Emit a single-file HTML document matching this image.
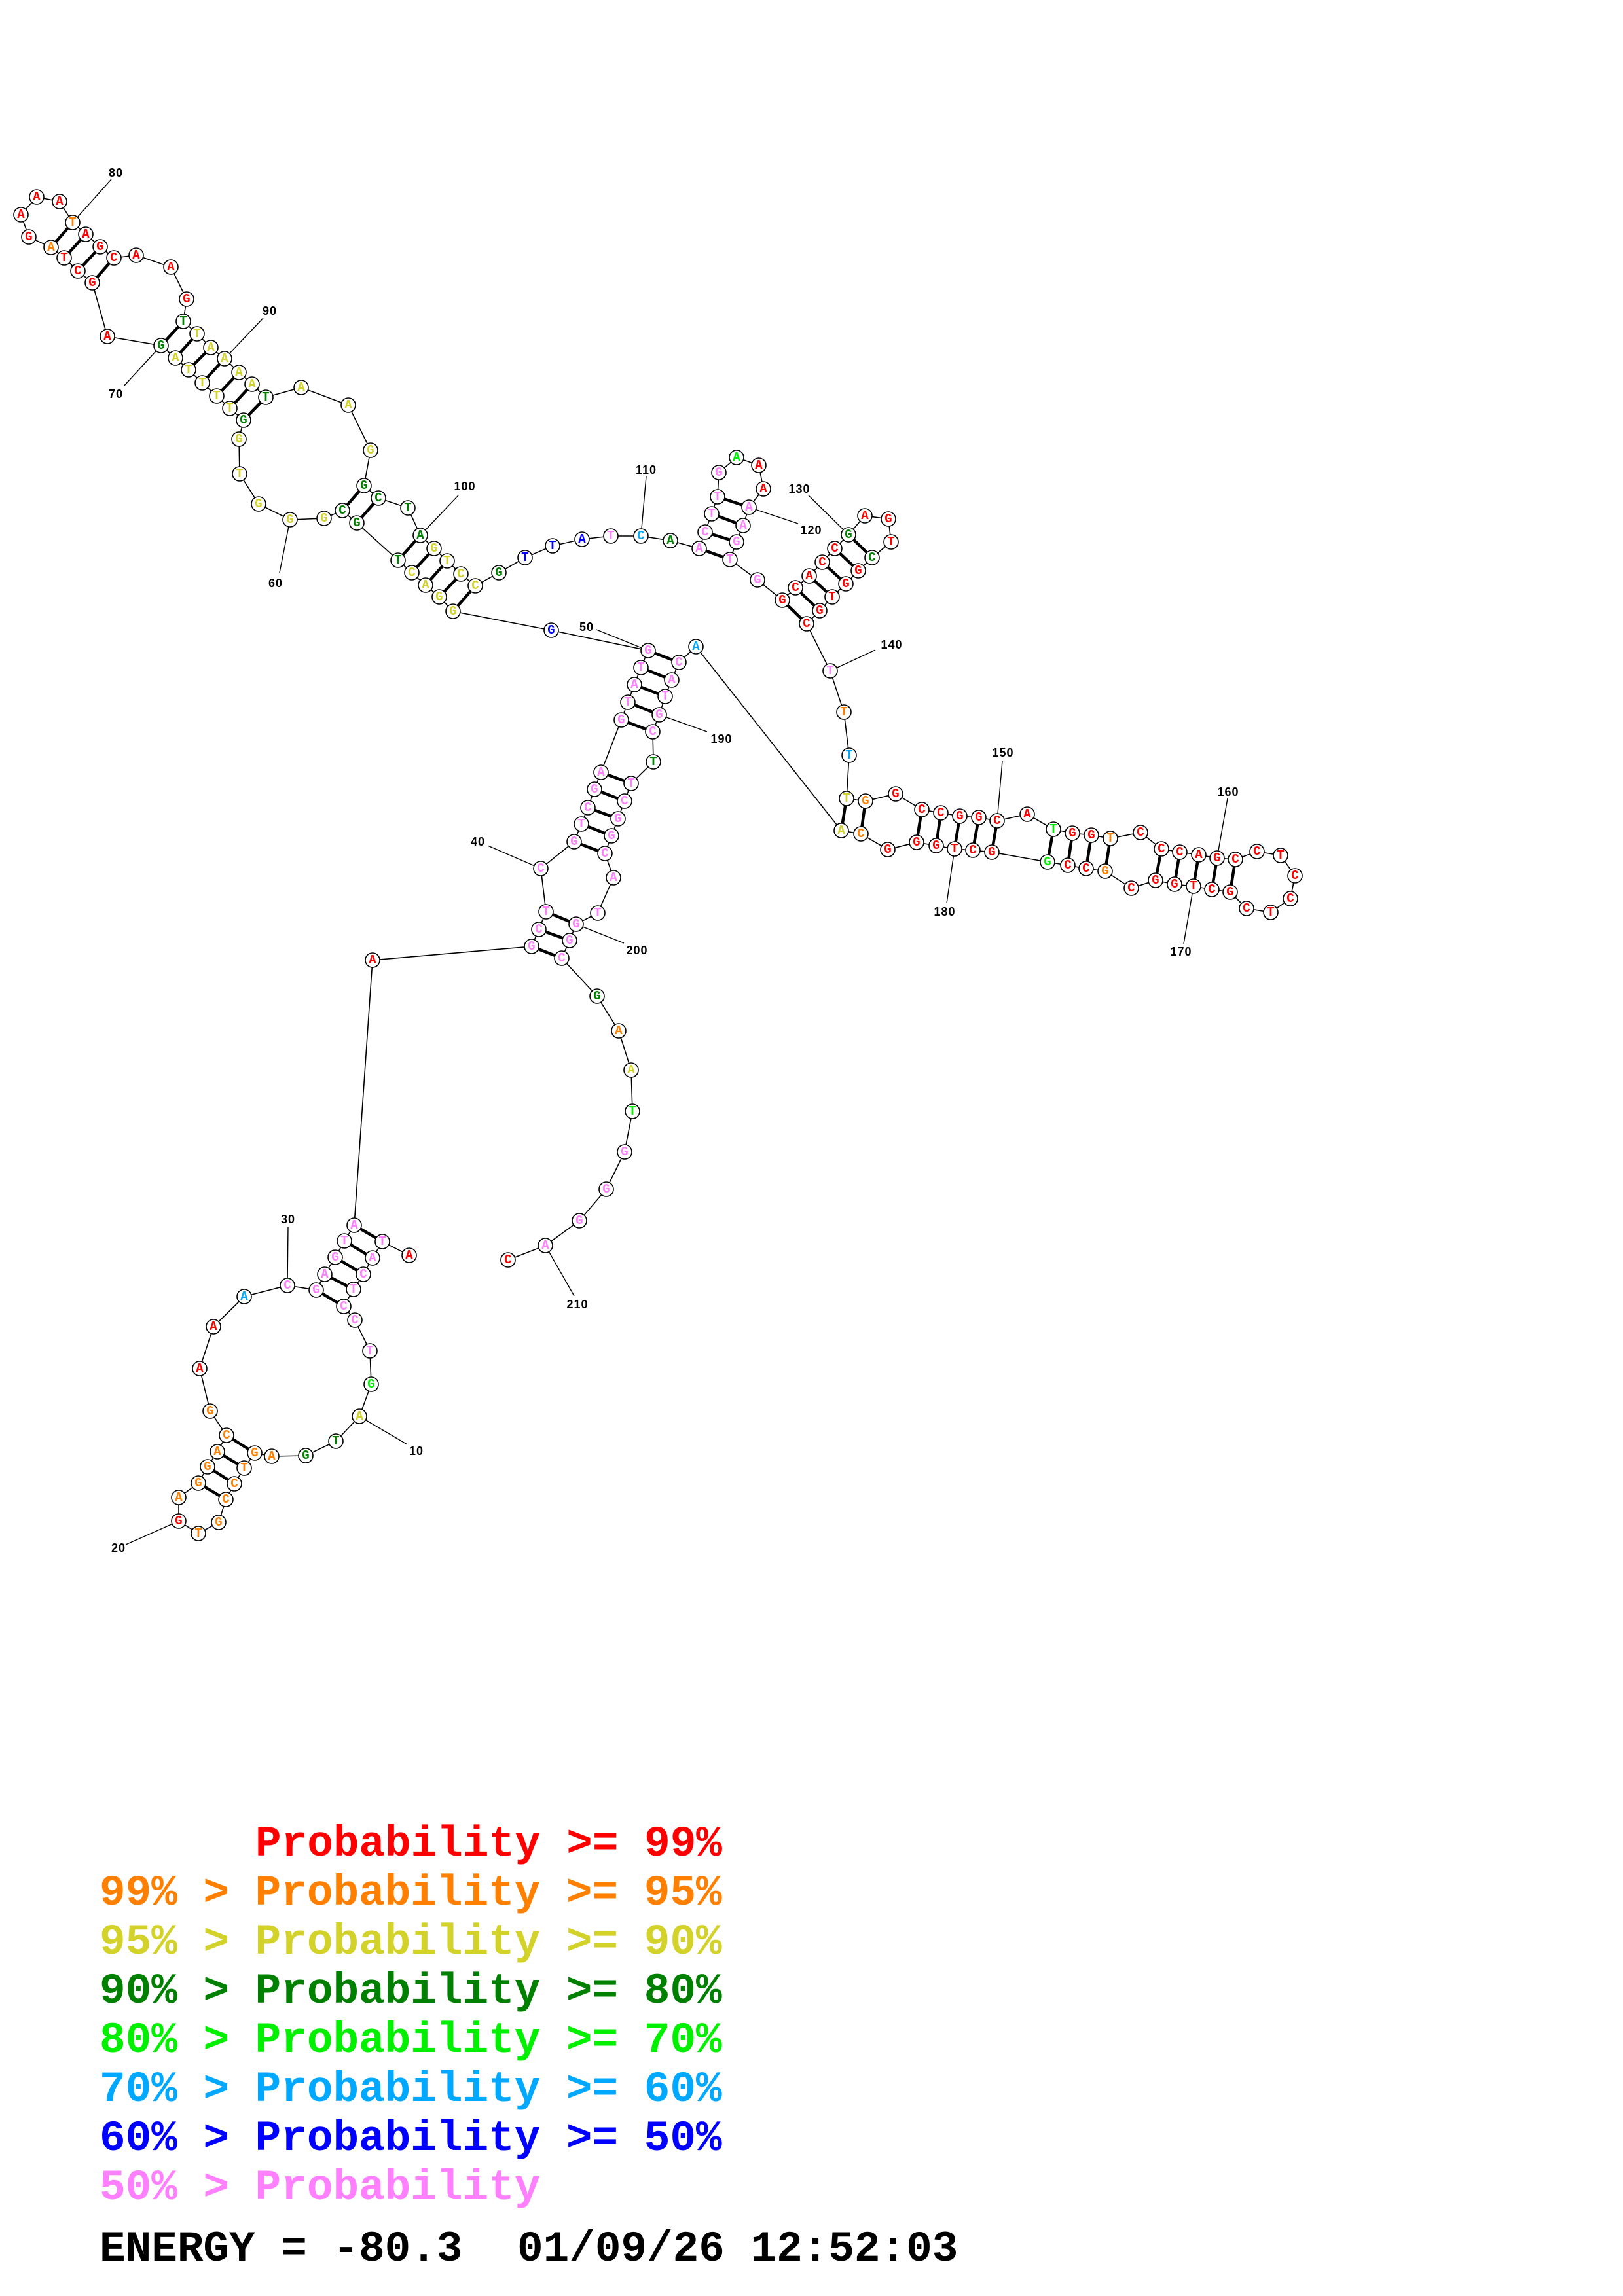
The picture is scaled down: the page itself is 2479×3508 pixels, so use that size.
<!DOCTYPE html>
<html><head><meta charset="utf-8"><style>
html,body{margin:0;padding:0;background:#fff}
svg{display:block}
circle{fill:#fff;stroke:#000;stroke-width:1.6}
.n text{font-family:"Liberation Mono",monospace;font-weight:bold;font-size:19px;text-anchor:middle;dominant-baseline:central}
.r{fill:#ff0000}.o{fill:#ff8000}.y{fill:#d2d22a}.dg{fill:#008000}.bg{fill:#00f000}.c{fill:#00a8ff}.b{fill:#0000ff}.p{fill:#ff80ff}
.lab{font-family:"Liberation Sans",sans-serif;font-weight:bold;font-size:18px;text-anchor:middle;dominant-baseline:central;fill:#000;letter-spacing:1px}
.leg{font-family:"Liberation Mono",monospace;font-weight:bold;font-size:66px;white-space:pre}
</style></head><body>
<svg width="2479" height="3508" viewBox="0 0 2479 3508" xmlns="http://www.w3.org/2000/svg">
<polyline fill="none" stroke="#000" stroke-width="1.6" points="625,1918 584,1897 569,1922 555,1947 540,1970 525,1996 542,2017 565,2064 567,2115 549,2164 513,2202 467,2224 415,2225 389,2220 373,2243 358,2267 345,2291 334,2326 303,2343 273,2324 273,2288 303,2266 317,2241 332,2218 346,2193 321,2156 305,2091 326,2027 373,1981 439,1964 483,1971 496,1947 512,1921 526,1896 541,1872 569,1467 812,1446 823,1420 834,1393 826,1327 877,1286 888,1259 898,1234 908,1206 918,1180 949,1100 959,1073 969,1046 979,1020 990,994 842,963 692,934 671,912 650,894 629,875 608,856 545,799 523,780 495,792 443,794 395,770 366,724 365,671 372,642 351,624 331,605 309,585 288,565 268,547 246,528 164,514 141,432 119,414 98,394 78,378 44,362 32,328 56,301 91,308 111,340 131,358 153,377 174,394 208,390 261,408 285,457 280,491 301,510 322,531 343,548 365,569 385,587 406,607 460,592 532,619 566,688 556,742 578,761 623,776 642,818 663,838 683,857 704,877 726,895 762,875 802,852 844,834 889,824 933,819 979,819 1024,826 1068,838 1077,813 1087,785 1096,759 1098,722 1125,699 1159,711 1166,747 1144,775 1135,803 1125,828 1115,855 1157,886 1195,917 1215,898 1236,880 1256,859 1275,838 1296,817 1321,788 1357,793 1361,828 1332,852 1311,872 1292,892 1271,912 1252,933 1232,953 1268,1025 1289,1088 1297,1154 1293,1220 1322,1224 1368,1213 1408,1237 1437,1242 1466,1247 1495,1249 1523,1254 1569,1244 1609,1267 1638,1273 1667,1276 1696,1281 1742,1272 1774,1297 1802,1302 1831,1306 1859,1311 1887,1313 1920,1301 1956,1307 1978,1338 1971,1373 1941,1394 1904,1388 1879,1363 1851,1359 1823,1354 1794,1351 1765,1345 1728,1357 1688,1331 1659,1327 1631,1322 1600,1317 1515,1302 1486,1299 1458,1297 1430,1292 1400,1287 1356,1298 1315,1274 1285,1269 1063,988 1037,1012 1026,1039 1016,1064 1007,1092 997,1118 998,1164 964,1197 954,1224 944,1251 934,1277 924,1304 937,1341 913,1395 880,1412 870,1437 858,1464 912,1522 945,1575 964,1635 966,1698 954,1760 926,1817 885,1865 833,1903 776,1925"/>
<g stroke="#000" stroke-width="4.5">
<line x1="541" y1="1872" x2="584" y2="1897"/><line x1="526" y1="1896" x2="569" y2="1922"/><line x1="512" y1="1921" x2="555" y2="1947"/><line x1="496" y1="1947" x2="540" y2="1970"/><line x1="483" y1="1971" x2="525" y2="1996"/>
<line x1="346" y1="2193" x2="389" y2="2220"/><line x1="332" y1="2218" x2="373" y2="2243"/><line x1="317" y1="2241" x2="358" y2="2267"/><line x1="303" y1="2266" x2="345" y2="2291"/>
<line x1="812" y1="1446" x2="858" y2="1464"/><line x1="823" y1="1420" x2="870" y2="1437"/><line x1="834" y1="1393" x2="880" y2="1412"/>
<line x1="877" y1="1286" x2="924" y2="1304"/><line x1="888" y1="1259" x2="934" y2="1277"/><line x1="898" y1="1234" x2="944" y2="1251"/><line x1="908" y1="1206" x2="954" y2="1224"/><line x1="918" y1="1180" x2="964" y2="1197"/>
<line x1="949" y1="1100" x2="997" y2="1118"/><line x1="959" y1="1073" x2="1007" y2="1092"/><line x1="969" y1="1046" x2="1016" y2="1064"/><line x1="979" y1="1020" x2="1026" y2="1039"/><line x1="990" y1="994" x2="1037" y2="1012"/>
<line x1="692" y1="934" x2="726" y2="895"/><line x1="671" y1="912" x2="704" y2="877"/><line x1="650" y1="894" x2="683" y2="857"/><line x1="629" y1="875" x2="663" y2="838"/><line x1="608" y1="856" x2="642" y2="818"/>
<line x1="545" y1="799" x2="578" y2="761"/><line x1="523" y1="780" x2="556" y2="742"/>
<line x1="372" y1="642" x2="406" y2="607"/><line x1="351" y1="624" x2="385" y2="587"/><line x1="331" y1="605" x2="365" y2="569"/><line x1="309" y1="585" x2="343" y2="548"/><line x1="288" y1="565" x2="322" y2="531"/><line x1="268" y1="547" x2="301" y2="510"/><line x1="246" y1="528" x2="280" y2="491"/>
<line x1="141" y1="432" x2="174" y2="394"/><line x1="119" y1="414" x2="153" y2="377"/><line x1="98" y1="394" x2="131" y2="358"/><line x1="78" y1="378" x2="111" y2="340"/>
<line x1="1068" y1="838" x2="1115" y2="855"/><line x1="1077" y1="813" x2="1125" y2="828"/><line x1="1087" y1="785" x2="1135" y2="803"/><line x1="1096" y1="759" x2="1144" y2="775"/>
<line x1="1195" y1="917" x2="1232" y2="953"/><line x1="1215" y1="898" x2="1252" y2="933"/><line x1="1236" y1="880" x2="1271" y2="912"/><line x1="1256" y1="859" x2="1292" y2="892"/><line x1="1275" y1="838" x2="1311" y2="872"/><line x1="1296" y1="817" x2="1332" y2="852"/>
<line x1="1293" y1="1220" x2="1285" y2="1269"/><line x1="1322" y1="1224" x2="1315" y2="1274"/>
<line x1="1408" y1="1237" x2="1400" y2="1287"/><line x1="1437" y1="1242" x2="1430" y2="1292"/><line x1="1466" y1="1247" x2="1458" y2="1297"/><line x1="1495" y1="1249" x2="1486" y2="1299"/><line x1="1523" y1="1254" x2="1515" y2="1302"/>
<line x1="1609" y1="1267" x2="1600" y2="1317"/><line x1="1638" y1="1273" x2="1631" y2="1322"/><line x1="1667" y1="1276" x2="1659" y2="1327"/><line x1="1696" y1="1281" x2="1688" y2="1331"/>
<line x1="1774" y1="1297" x2="1765" y2="1345"/><line x1="1802" y1="1302" x2="1794" y2="1351"/><line x1="1831" y1="1306" x2="1823" y2="1354"/><line x1="1859" y1="1311" x2="1851" y2="1359"/><line x1="1887" y1="1313" x2="1879" y2="1363"/>
</g>
<g stroke="#000" stroke-width="1.4">
<line x1="549" y1="2164" x2="622" y2="2207"/><line x1="273" y1="2324" x2="192" y2="2360"/><line x1="439" y1="1964" x2="440" y2="1875"/><line x1="826" y1="1327" x2="745" y2="1292"/><line x1="990" y1="994" x2="911" y2="962"/><line x1="443" y1="794" x2="427" y2="875"/><line x1="246" y1="528" x2="189" y2="590"/><line x1="111" y1="340" x2="170" y2="274"/><line x1="343" y1="548" x2="402" y2="486"/><line x1="642" y1="818" x2="700" y2="757"/><line x1="979" y1="819" x2="987" y2="728"/><line x1="1144" y1="775" x2="1219" y2="800"/><line x1="1296" y1="817" x2="1235" y2="757"/><line x1="1268" y1="1025" x2="1337" y2="993"/><line x1="1523" y1="1254" x2="1531" y2="1163"/><line x1="1859" y1="1311" x2="1875" y2="1220"/><line x1="1823" y1="1354" x2="1808" y2="1442"/><line x1="1458" y1="1297" x2="1446" y2="1380"/><line x1="1007" y1="1092" x2="1080" y2="1118"/><line x1="880" y1="1412" x2="953" y2="1441"/><line x1="833" y1="1903" x2="877" y2="1980"/>
</g>
<g class="lab">
<text x="636" y="2217">10</text><text x="181" y="2365">20</text><text x="440" y="1863">30</text><text x="730" y="1286">40</text><text x="896" y="958">50</text><text x="421" y="891">60</text><text x="177" y="602">70</text><text x="177" y="264">80</text><text x="412" y="475">90</text><text x="710" y="743">100</text><text x="987" y="718">110</text><text x="1239" y="810">120</text><text x="1221" y="747">130</text><text x="1362" y="985">140</text><text x="1532" y="1150">150</text><text x="1876" y="1210">160</text><text x="1804" y="1454">170</text><text x="1443" y="1393">180</text><text x="1102" y="1129">190</text><text x="973" y="1452">200</text><text x="882" y="1993">210</text>
</g>
<g class="n">
<circle cx="625" cy="1918" r="11"/><text x="625" y="1918" class="r">A</text>
<circle cx="584" cy="1897" r="11"/><text x="584" y="1897" class="p">T</text>
<circle cx="569" cy="1922" r="11"/><text x="569" y="1922" class="p">A</text>
<circle cx="555" cy="1947" r="11"/><text x="555" y="1947" class="p">C</text>
<circle cx="540" cy="1970" r="11"/><text x="540" y="1970" class="p">T</text>
<circle cx="525" cy="1996" r="11"/><text x="525" y="1996" class="p">C</text>
<circle cx="542" cy="2017" r="11"/><text x="542" y="2017" class="p">C</text>
<circle cx="565" cy="2064" r="11"/><text x="565" y="2064" class="p">T</text>
<circle cx="567" cy="2115" r="11"/><text x="567" y="2115" class="bg">G</text>
<circle cx="549" cy="2164" r="11"/><text x="549" y="2164" class="y">A</text>
<circle cx="513" cy="2202" r="11"/><text x="513" y="2202" class="dg">T</text>
<circle cx="467" cy="2224" r="11"/><text x="467" y="2224" class="dg">G</text>
<circle cx="415" cy="2225" r="11"/><text x="415" y="2225" class="o">A</text>
<circle cx="389" cy="2220" r="11"/><text x="389" y="2220" class="o">G</text>
<circle cx="373" cy="2243" r="11"/><text x="373" y="2243" class="o">T</text>
<circle cx="358" cy="2267" r="11"/><text x="358" y="2267" class="o">C</text>
<circle cx="345" cy="2291" r="11"/><text x="345" y="2291" class="o">C</text>
<circle cx="334" cy="2326" r="11"/><text x="334" y="2326" class="o">G</text>
<circle cx="303" cy="2343" r="11"/><text x="303" y="2343" class="o">T</text>
<circle cx="273" cy="2324" r="11"/><text x="273" y="2324" class="r">G</text>
<circle cx="273" cy="2288" r="11"/><text x="273" y="2288" class="o">A</text>
<circle cx="303" cy="2266" r="11"/><text x="303" y="2266" class="o">G</text>
<circle cx="317" cy="2241" r="11"/><text x="317" y="2241" class="o">G</text>
<circle cx="332" cy="2218" r="11"/><text x="332" y="2218" class="o">A</text>
<circle cx="346" cy="2193" r="11"/><text x="346" y="2193" class="o">C</text>
<circle cx="321" cy="2156" r="11"/><text x="321" y="2156" class="o">G</text>
<circle cx="305" cy="2091" r="11"/><text x="305" y="2091" class="r">A</text>
<circle cx="326" cy="2027" r="11"/><text x="326" y="2027" class="r">A</text>
<circle cx="373" cy="1981" r="11"/><text x="373" y="1981" class="c">A</text>
<circle cx="439" cy="1964" r="11"/><text x="439" y="1964" class="p">C</text>
<circle cx="483" cy="1971" r="11"/><text x="483" y="1971" class="p">G</text>
<circle cx="496" cy="1947" r="11"/><text x="496" y="1947" class="p">A</text>
<circle cx="512" cy="1921" r="11"/><text x="512" y="1921" class="p">G</text>
<circle cx="526" cy="1896" r="11"/><text x="526" y="1896" class="p">T</text>
<circle cx="541" cy="1872" r="11"/><text x="541" y="1872" class="p">A</text>
<circle cx="569" cy="1467" r="11"/><text x="569" y="1467" class="r">A</text>
<circle cx="812" cy="1446" r="11"/><text x="812" y="1446" class="p">G</text>
<circle cx="823" cy="1420" r="11"/><text x="823" y="1420" class="p">C</text>
<circle cx="834" cy="1393" r="11"/><text x="834" y="1393" class="p">T</text>
<circle cx="826" cy="1327" r="11"/><text x="826" y="1327" class="p">C</text>
<circle cx="877" cy="1286" r="11"/><text x="877" y="1286" class="p">G</text>
<circle cx="888" cy="1259" r="11"/><text x="888" y="1259" class="p">T</text>
<circle cx="898" cy="1234" r="11"/><text x="898" y="1234" class="p">C</text>
<circle cx="908" cy="1206" r="11"/><text x="908" y="1206" class="p">G</text>
<circle cx="918" cy="1180" r="11"/><text x="918" y="1180" class="p">A</text>
<circle cx="949" cy="1100" r="11"/><text x="949" y="1100" class="p">G</text>
<circle cx="959" cy="1073" r="11"/><text x="959" y="1073" class="p">T</text>
<circle cx="969" cy="1046" r="11"/><text x="969" y="1046" class="p">A</text>
<circle cx="979" cy="1020" r="11"/><text x="979" y="1020" class="p">T</text>
<circle cx="990" cy="994" r="11"/><text x="990" y="994" class="p">G</text>
<circle cx="842" cy="963" r="11"/><text x="842" y="963" class="b">G</text>
<circle cx="692" cy="934" r="11"/><text x="692" y="934" class="y">G</text>
<circle cx="671" cy="912" r="11"/><text x="671" y="912" class="y">G</text>
<circle cx="650" cy="894" r="11"/><text x="650" y="894" class="y">A</text>
<circle cx="629" cy="875" r="11"/><text x="629" y="875" class="y">C</text>
<circle cx="608" cy="856" r="11"/><text x="608" y="856" class="dg">T</text>
<circle cx="545" cy="799" r="11"/><text x="545" y="799" class="dg">G</text>
<circle cx="523" cy="780" r="11"/><text x="523" y="780" class="dg">C</text>
<circle cx="495" cy="792" r="11"/><text x="495" y="792" class="y">G</text>
<circle cx="443" cy="794" r="11"/><text x="443" y="794" class="y">G</text>
<circle cx="395" cy="770" r="11"/><text x="395" y="770" class="y">G</text>
<circle cx="366" cy="724" r="11"/><text x="366" y="724" class="y">T</text>
<circle cx="365" cy="671" r="11"/><text x="365" y="671" class="y">G</text>
<circle cx="372" cy="642" r="11"/><text x="372" y="642" class="dg">G</text>
<circle cx="351" cy="624" r="11"/><text x="351" y="624" class="y">T</text>
<circle cx="331" cy="605" r="11"/><text x="331" y="605" class="y">T</text>
<circle cx="309" cy="585" r="11"/><text x="309" y="585" class="y">T</text>
<circle cx="288" cy="565" r="11"/><text x="288" y="565" class="y">T</text>
<circle cx="268" cy="547" r="11"/><text x="268" y="547" class="y">A</text>
<circle cx="246" cy="528" r="11"/><text x="246" y="528" class="dg">G</text>
<circle cx="164" cy="514" r="11"/><text x="164" y="514" class="r">A</text>
<circle cx="141" cy="432" r="11"/><text x="141" y="432" class="r">G</text>
<circle cx="119" cy="414" r="11"/><text x="119" y="414" class="r">C</text>
<circle cx="98" cy="394" r="11"/><text x="98" y="394" class="r">T</text>
<circle cx="78" cy="378" r="11"/><text x="78" y="378" class="o">A</text>
<circle cx="44" cy="362" r="11"/><text x="44" y="362" class="r">G</text>
<circle cx="32" cy="328" r="11"/><text x="32" y="328" class="r">A</text>
<circle cx="56" cy="301" r="11"/><text x="56" y="301" class="r">A</text>
<circle cx="91" cy="308" r="11"/><text x="91" y="308" class="r">A</text>
<circle cx="111" cy="340" r="11"/><text x="111" y="340" class="o">T</text>
<circle cx="131" cy="358" r="11"/><text x="131" y="358" class="r">A</text>
<circle cx="153" cy="377" r="11"/><text x="153" y="377" class="r">G</text>
<circle cx="174" cy="394" r="11"/><text x="174" y="394" class="r">C</text>
<circle cx="208" cy="390" r="11"/><text x="208" y="390" class="r">A</text>
<circle cx="261" cy="408" r="11"/><text x="261" y="408" class="r">A</text>
<circle cx="285" cy="457" r="11"/><text x="285" y="457" class="r">G</text>
<circle cx="280" cy="491" r="11"/><text x="280" y="491" class="dg">T</text>
<circle cx="301" cy="510" r="11"/><text x="301" y="510" class="y">T</text>
<circle cx="322" cy="531" r="11"/><text x="322" y="531" class="y">A</text>
<circle cx="343" cy="548" r="11"/><text x="343" y="548" class="y">A</text>
<circle cx="365" cy="569" r="11"/><text x="365" y="569" class="y">A</text>
<circle cx="385" cy="587" r="11"/><text x="385" y="587" class="y">A</text>
<circle cx="406" cy="607" r="11"/><text x="406" y="607" class="dg">T</text>
<circle cx="460" cy="592" r="11"/><text x="460" y="592" class="y">A</text>
<circle cx="532" cy="619" r="11"/><text x="532" y="619" class="y">A</text>
<circle cx="566" cy="688" r="11"/><text x="566" y="688" class="y">G</text>
<circle cx="556" cy="742" r="11"/><text x="556" y="742" class="dg">G</text>
<circle cx="578" cy="761" r="11"/><text x="578" y="761" class="dg">C</text>
<circle cx="623" cy="776" r="11"/><text x="623" y="776" class="dg">T</text>
<circle cx="642" cy="818" r="11"/><text x="642" y="818" class="dg">A</text>
<circle cx="663" cy="838" r="11"/><text x="663" y="838" class="y">G</text>
<circle cx="683" cy="857" r="11"/><text x="683" y="857" class="y">T</text>
<circle cx="704" cy="877" r="11"/><text x="704" y="877" class="y">C</text>
<circle cx="726" cy="895" r="11"/><text x="726" y="895" class="y">C</text>
<circle cx="762" cy="875" r="11"/><text x="762" y="875" class="dg">G</text>
<circle cx="802" cy="852" r="11"/><text x="802" y="852" class="b">T</text>
<circle cx="844" cy="834" r="11"/><text x="844" y="834" class="b">T</text>
<circle cx="889" cy="824" r="11"/><text x="889" y="824" class="b">A</text>
<circle cx="933" cy="819" r="11"/><text x="933" y="819" class="p">T</text>
<circle cx="979" cy="819" r="11"/><text x="979" y="819" class="c">C</text>
<circle cx="1024" cy="826" r="11"/><text x="1024" y="826" class="dg">A</text>
<circle cx="1068" cy="838" r="11"/><text x="1068" y="838" class="p">A</text>
<circle cx="1077" cy="813" r="11"/><text x="1077" y="813" class="p">C</text>
<circle cx="1087" cy="785" r="11"/><text x="1087" y="785" class="p">T</text>
<circle cx="1096" cy="759" r="11"/><text x="1096" y="759" class="p">T</text>
<circle cx="1098" cy="722" r="11"/><text x="1098" y="722" class="p">G</text>
<circle cx="1125" cy="699" r="11"/><text x="1125" y="699" class="bg">A</text>
<circle cx="1159" cy="711" r="11"/><text x="1159" y="711" class="r">A</text>
<circle cx="1166" cy="747" r="11"/><text x="1166" y="747" class="r">A</text>
<circle cx="1144" cy="775" r="11"/><text x="1144" y="775" class="p">A</text>
<circle cx="1135" cy="803" r="11"/><text x="1135" y="803" class="p">A</text>
<circle cx="1125" cy="828" r="11"/><text x="1125" y="828" class="p">G</text>
<circle cx="1115" cy="855" r="11"/><text x="1115" y="855" class="p">T</text>
<circle cx="1157" cy="886" r="11"/><text x="1157" y="886" class="p">G</text>
<circle cx="1195" cy="917" r="11"/><text x="1195" y="917" class="r">G</text>
<circle cx="1215" cy="898" r="11"/><text x="1215" y="898" class="r">C</text>
<circle cx="1236" cy="880" r="11"/><text x="1236" y="880" class="r">A</text>
<circle cx="1256" cy="859" r="11"/><text x="1256" y="859" class="r">C</text>
<circle cx="1275" cy="838" r="11"/><text x="1275" y="838" class="r">C</text>
<circle cx="1296" cy="817" r="11"/><text x="1296" y="817" class="dg">G</text>
<circle cx="1321" cy="788" r="11"/><text x="1321" y="788" class="r">A</text>
<circle cx="1357" cy="793" r="11"/><text x="1357" y="793" class="r">G</text>
<circle cx="1361" cy="828" r="11"/><text x="1361" y="828" class="r">T</text>
<circle cx="1332" cy="852" r="11"/><text x="1332" y="852" class="dg">C</text>
<circle cx="1311" cy="872" r="11"/><text x="1311" y="872" class="r">G</text>
<circle cx="1292" cy="892" r="11"/><text x="1292" y="892" class="r">G</text>
<circle cx="1271" cy="912" r="11"/><text x="1271" y="912" class="r">T</text>
<circle cx="1252" cy="933" r="11"/><text x="1252" y="933" class="r">G</text>
<circle cx="1232" cy="953" r="11"/><text x="1232" y="953" class="r">C</text>
<circle cx="1268" cy="1025" r="11"/><text x="1268" y="1025" class="p">T</text>
<circle cx="1289" cy="1088" r="11"/><text x="1289" y="1088" class="o">T</text>
<circle cx="1297" cy="1154" r="11"/><text x="1297" y="1154" class="c">T</text>
<circle cx="1293" cy="1220" r="11"/><text x="1293" y="1220" class="y">T</text>
<circle cx="1322" cy="1224" r="11"/><text x="1322" y="1224" class="o">G</text>
<circle cx="1368" cy="1213" r="11"/><text x="1368" y="1213" class="r">G</text>
<circle cx="1408" cy="1237" r="11"/><text x="1408" y="1237" class="r">C</text>
<circle cx="1437" cy="1242" r="11"/><text x="1437" y="1242" class="r">C</text>
<circle cx="1466" cy="1247" r="11"/><text x="1466" y="1247" class="r">G</text>
<circle cx="1495" cy="1249" r="11"/><text x="1495" y="1249" class="r">G</text>
<circle cx="1523" cy="1254" r="11"/><text x="1523" y="1254" class="r">C</text>
<circle cx="1569" cy="1244" r="11"/><text x="1569" y="1244" class="r">A</text>
<circle cx="1609" cy="1267" r="11"/><text x="1609" y="1267" class="bg">T</text>
<circle cx="1638" cy="1273" r="11"/><text x="1638" y="1273" class="r">G</text>
<circle cx="1667" cy="1276" r="11"/><text x="1667" y="1276" class="r">G</text>
<circle cx="1696" cy="1281" r="11"/><text x="1696" y="1281" class="o">T</text>
<circle cx="1742" cy="1272" r="11"/><text x="1742" y="1272" class="r">C</text>
<circle cx="1774" cy="1297" r="11"/><text x="1774" y="1297" class="r">C</text>
<circle cx="1802" cy="1302" r="11"/><text x="1802" y="1302" class="r">C</text>
<circle cx="1831" cy="1306" r="11"/><text x="1831" y="1306" class="r">A</text>
<circle cx="1859" cy="1311" r="11"/><text x="1859" y="1311" class="r">G</text>
<circle cx="1887" cy="1313" r="11"/><text x="1887" y="1313" class="r">C</text>
<circle cx="1920" cy="1301" r="11"/><text x="1920" y="1301" class="r">C</text>
<circle cx="1956" cy="1307" r="11"/><text x="1956" y="1307" class="r">T</text>
<circle cx="1978" cy="1338" r="11"/><text x="1978" y="1338" class="r">C</text>
<circle cx="1971" cy="1373" r="11"/><text x="1971" y="1373" class="r">C</text>
<circle cx="1941" cy="1394" r="11"/><text x="1941" y="1394" class="r">T</text>
<circle cx="1904" cy="1388" r="11"/><text x="1904" y="1388" class="r">C</text>
<circle cx="1879" cy="1363" r="11"/><text x="1879" y="1363" class="r">G</text>
<circle cx="1851" cy="1359" r="11"/><text x="1851" y="1359" class="r">C</text>
<circle cx="1823" cy="1354" r="11"/><text x="1823" y="1354" class="r">T</text>
<circle cx="1794" cy="1351" r="11"/><text x="1794" y="1351" class="r">G</text>
<circle cx="1765" cy="1345" r="11"/><text x="1765" y="1345" class="r">G</text>
<circle cx="1728" cy="1357" r="11"/><text x="1728" y="1357" class="r">C</text>
<circle cx="1688" cy="1331" r="11"/><text x="1688" y="1331" class="o">G</text>
<circle cx="1659" cy="1327" r="11"/><text x="1659" y="1327" class="r">C</text>
<circle cx="1631" cy="1322" r="11"/><text x="1631" y="1322" class="r">C</text>
<circle cx="1600" cy="1317" r="11"/><text x="1600" y="1317" class="bg">G</text>
<circle cx="1515" cy="1302" r="11"/><text x="1515" y="1302" class="r">G</text>
<circle cx="1486" cy="1299" r="11"/><text x="1486" y="1299" class="r">C</text>
<circle cx="1458" cy="1297" r="11"/><text x="1458" y="1297" class="r">T</text>
<circle cx="1430" cy="1292" r="11"/><text x="1430" y="1292" class="r">G</text>
<circle cx="1400" cy="1287" r="11"/><text x="1400" y="1287" class="r">G</text>
<circle cx="1356" cy="1298" r="11"/><text x="1356" y="1298" class="r">G</text>
<circle cx="1315" cy="1274" r="11"/><text x="1315" y="1274" class="o">C</text>
<circle cx="1285" cy="1269" r="11"/><text x="1285" y="1269" class="y">A</text>
<circle cx="1063" cy="988" r="11"/><text x="1063" y="988" class="c">A</text>
<circle cx="1037" cy="1012" r="11"/><text x="1037" y="1012" class="p">C</text>
<circle cx="1026" cy="1039" r="11"/><text x="1026" y="1039" class="p">A</text>
<circle cx="1016" cy="1064" r="11"/><text x="1016" y="1064" class="p">T</text>
<circle cx="1007" cy="1092" r="11"/><text x="1007" y="1092" class="p">G</text>
<circle cx="997" cy="1118" r="11"/><text x="997" y="1118" class="p">C</text>
<circle cx="998" cy="1164" r="11"/><text x="998" y="1164" class="dg">T</text>
<circle cx="964" cy="1197" r="11"/><text x="964" y="1197" class="p">T</text>
<circle cx="954" cy="1224" r="11"/><text x="954" y="1224" class="p">C</text>
<circle cx="944" cy="1251" r="11"/><text x="944" y="1251" class="p">G</text>
<circle cx="934" cy="1277" r="11"/><text x="934" y="1277" class="p">G</text>
<circle cx="924" cy="1304" r="11"/><text x="924" y="1304" class="p">C</text>
<circle cx="937" cy="1341" r="11"/><text x="937" y="1341" class="p">A</text>
<circle cx="913" cy="1395" r="11"/><text x="913" y="1395" class="p">T</text>
<circle cx="880" cy="1412" r="11"/><text x="880" y="1412" class="p">G</text>
<circle cx="870" cy="1437" r="11"/><text x="870" y="1437" class="p">G</text>
<circle cx="858" cy="1464" r="11"/><text x="858" y="1464" class="p">C</text>
<circle cx="912" cy="1522" r="11"/><text x="912" y="1522" class="dg">G</text>
<circle cx="945" cy="1575" r="11"/><text x="945" y="1575" class="o">A</text>
<circle cx="964" cy="1635" r="11"/><text x="964" y="1635" class="y">A</text>
<circle cx="966" cy="1698" r="11"/><text x="966" y="1698" class="bg">T</text>
<circle cx="954" cy="1760" r="11"/><text x="954" y="1760" class="p">G</text>
<circle cx="926" cy="1817" r="11"/><text x="926" y="1817" class="p">G</text>
<circle cx="885" cy="1865" r="11"/><text x="885" y="1865" class="p">G</text>
<circle cx="833" cy="1903" r="11"/><text x="833" y="1903" class="p">A</text>
<circle cx="776" cy="1925" r="11"/><text x="776" y="1925" class="r">C</text>
</g>
<g class="leg">
<text x="390" y="2835" fill="#ff0000">Probability &gt;= 99%</text>
<text x="152" y="2910" fill="#ff8000">99% &gt; Probability &gt;= 95%</text>
<text x="152" y="2985" fill="#d2d22a">95% &gt; Probability &gt;= 90%</text>
<text x="152" y="3060" fill="#008000">90% &gt; Probability &gt;= 80%</text>
<text x="152" y="3135" fill="#00f000">80% &gt; Probability &gt;= 70%</text>
<text x="152" y="3210" fill="#00a8ff">70% &gt; Probability &gt;= 60%</text>
<text x="152" y="3285" fill="#0000ff">60% &gt; Probability &gt;= 50%</text>
<text x="152" y="3360" fill="#ff80ff">50% &gt; Probability</text>
<text x="152" y="3454" fill="#000">ENERGY = -80.3</text>
<text x="790" y="3454" fill="#000">01/09/26 12:52:03</text>
</g>
</svg>
</body></html>
